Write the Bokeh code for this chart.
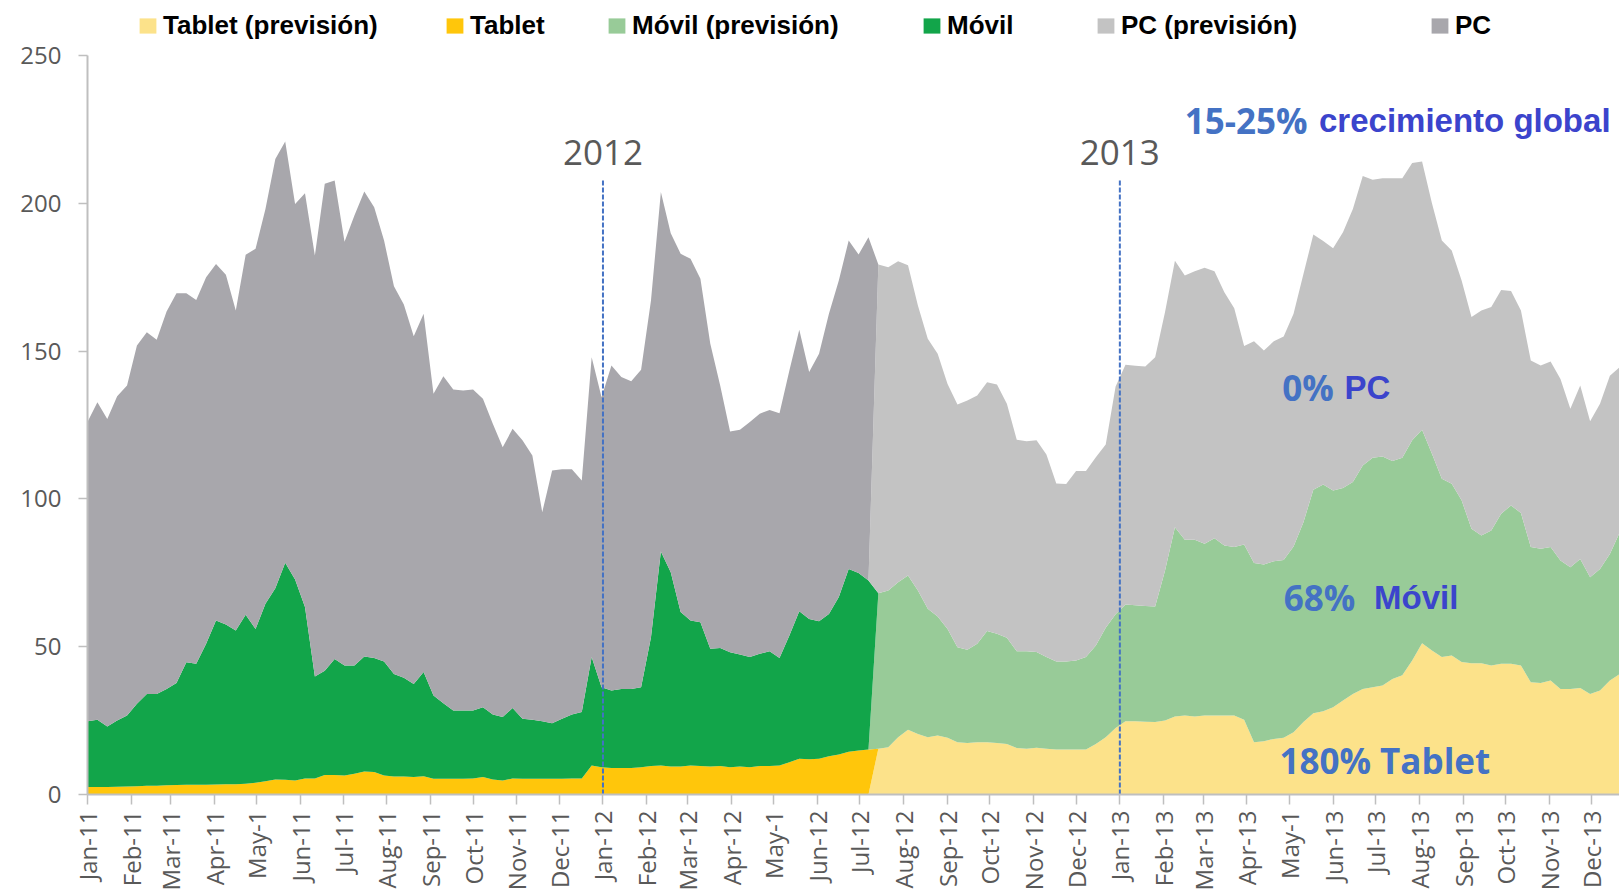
import datetime as dt
from math import pi
from bokeh.plotting import figure
from bokeh.models import Range1d, FixedTicker, Label, Legend, LegendItem, ColumnDataSource
from bokeh.embed import file_html
from bokeh.resources import INLINE

# ---------------- data (weekly, from 1 Jan 2011) ----------------
month_labels = ["Jan-11", "Feb-11", "Mar-11", "Apr-11", "May-1", "Jun-11", "Jul-11", "Aug-11",
                "Sep-11", "Oct-11", "Nov-11", "Dec-11",
                "Jan-12", "Feb-12", "Mar-12", "Apr-12", "May-1", "Jun-12", "Jul-12", "Aug-12",
                "Sep-12", "Oct-12", "Nov-12", "Dec-12",
                "Jan-13", "Feb-13", "Mar-13", "Apr-13", "May-1", "Jun-13", "Jul-13", "Aug-13",
                "Sep-13", "Oct-13", "Nov-13", "Dec-13"]

# actual values: weeks 0..79
tablet_real = [2.5, 2.5, 2.5, 2.6, 2.7, 2.8, 3.0, 3.0, 3.1, 3.2,
               3.3, 3.3, 3.3, 3.4, 3.5, 3.5, 3.6, 4.0, 4.5, 5.1,
               5.0, 4.7, 5.4, 5.4, 6.6, 6.6, 6.4, 7.0, 7.8, 7.6,
               6.4, 6.1, 6.1, 5.9, 6.2, 5.3, 5.3, 5.3, 5.3, 5.4,
               5.9, 5.1, 4.7, 5.4, 5.3, 5.3, 5.3, 5.3, 5.3, 5.4,
               5.4, 9.8, 9.2, 9.0, 9.0, 9.0, 9.2, 9.6, 9.8, 9.5,
               9.5, 9.8, 9.6, 9.5, 9.6, 9.2, 9.5, 9.2, 9.6, 9.6,
               9.8, 10.9, 12.1, 11.9, 12.1, 12.9, 13.5, 14.5, 14.9, 15.2]
movil_real = [22.3, 22.8, 20.5, 22.4, 24.0, 27.9, 31.0, 31.0, 32.6, 34.5,
              41.4, 40.9, 47.7, 55.5, 54.0, 52.0, 57.2, 52.0, 60.0, 64.7,
              73.4, 68.0, 58.0, 34.5, 35.3, 39.2, 37.2, 36.6, 38.9, 38.6,
              38.6, 34.7, 33.4, 31.5, 35.2, 28.2, 25.6, 23.1, 23.1, 23.0,
              23.6, 22.0, 21.5, 23.9, 20.3, 20.0, 19.5, 18.8, 20.3, 21.7,
              22.5, 36.7, 27.1, 26.2, 26.7, 26.7, 27.1, 43.6, 72.4, 65.7,
              52.2, 49.1, 48.7, 39.8, 40.0, 38.9, 37.9, 37.3, 38.0, 38.9,
              36.4, 42.9, 49.9, 47.5, 46.5, 48.2, 53.3, 61.8, 60.0, 57.2]
pc_real = [101.2, 107.4, 104.0, 109.7, 111.7, 121.2, 122.4, 119.8, 127.7, 131.9,
           124.9, 123.1, 124.0, 120.6, 118.3, 108.2, 121.8, 128.6, 133.6, 145.2,
           142.5, 127.1, 140.0, 142.4, 164.7, 161.9, 143.4, 152.3, 157.3, 152.5,
           142.4, 131.1, 126.3, 117.6, 121.2, 102.1, 110.6, 108.6, 108.3, 108.6,
           104.4, 98.3, 91.3, 94.4, 94.2, 89.4, 70.7, 85.5, 84.4, 82.9,
           78.3, 101.4, 98.1, 109.9, 105.5, 104.1, 107.4, 113.9, 121.6, 114.7,
           121.2, 122.3, 116.2, 103.2, 88.8, 74.7, 76.0, 79.5, 81.2, 81.6,
           82.8, 89.6, 95.2, 83.5, 90.5, 101.5, 107.1, 111.1, 107.8, 116.1]

# forecast values: weeks 80..155
tablet_prev = [15.5, 16.0, 19.4, 21.9, 20.5, 19.4, 20.0, 19.2, 17.7, 17.4,
               17.7, 17.7, 17.4, 17.1, 15.7, 15.5, 15.8, 15.5, 15.2, 15.2,
               15.2, 15.2, 17.1, 19.4, 22.5, 24.8, 24.8, 24.6, 24.5, 25.0,
               26.4, 26.7, 26.4, 26.7, 26.7, 26.7, 26.7, 25.3, 17.7, 18.0,
               18.8, 19.2, 21.1, 24.5, 27.5, 28.2, 29.5, 31.8, 34.0, 35.7,
               36.3, 36.9, 39.1, 40.3, 45.3, 51.2, 48.7, 46.5, 47.0, 44.8,
               44.4, 44.4, 43.6, 44.2, 44.2, 43.6, 38.0, 37.7, 38.6, 35.7,
               35.7, 36.0, 34.0, 35.2, 38.6, 40.8]
movil_prev = [52.6, 53.0, 52.4, 52.2, 48.5, 43.4, 40.2, 36.8, 32.1, 31.6,
              33.3, 37.6, 37.0, 35.9, 32.8, 33.0, 32.4, 31.0, 29.8, 29.8,
              30.1, 31.3, 33.3, 37.0, 38.5, 39.5, 39.2, 39.2, 39.1, 50.8,
              64.0, 59.5, 59.8, 58.1, 60.0, 57.5, 57.0, 59.3, 60.6, 59.8,
              60.1, 60.1, 62.8, 67.6, 75.6, 76.7, 73.3, 71.9, 71.7, 75.6,
              77.6, 77.4, 73.7, 73.6, 74.5, 72.2, 66.6, 60.3, 58.1, 54.7,
              45.5, 43.2, 45.7, 50.8, 53.6, 51.6, 45.7, 45.4, 45.1, 43.5,
              41.2, 43.7, 39.5, 41.1, 42.8, 47.9]
pc_prev = [111.2, 109.4, 108.6, 104.9, 96.4, 91.4, 88.9, 82.9, 82.1, 84.3,
           84.0, 84.2, 84.3, 79.2, 71.5, 71.0, 71.6, 68.5, 60.2, 60.0,
           64.1, 62.9, 63.7, 62.0, 77.0, 81.1, 81.0, 81.0, 84.3, 87.4,
           90.2, 89.4, 90.8, 93.4, 90.3, 85.7, 80.8, 67.1, 75.0, 72.4,
           74.4, 75.6, 78.7, 84.0, 86.3, 82.3, 82.0, 86.5, 92.4, 97.9,
           94.1, 94.2, 95.7, 94.6, 93.8, 90.7, 84.7, 80.6, 78.9, 74.4,
           71.6, 76.1, 75.6, 75.7, 72.5, 68.5, 63.1, 62.0, 62.8, 61.4,
           53.6, 58.7, 52.8, 55.9, 60.3, 55.9]

series_names = ["Tablet (previsión)", "Tablet", "Móvil (previsión)", "Móvil", "PC (previsión)", "PC"]
series_colors = ["#FCE28A", "#FFC60B", "#98CB98", "#12A54A", "#C3C3C3", "#A8A7AC"]

# ---------------- build stacked columns ----------------
n_real = len(tablet_real)
n_prev = len(tablet_prev)
n = n_real + n_prev
start = dt.date(2011, 1, 1)
x_days = [7 * i for i in range(n)]
zeros_r = [0.0] * n_real
zeros_p = [0.0] * n_prev
cols = {
    "x": x_days,
    "s0": zeros_r + tablet_prev,
    "s1": tablet_real + zeros_p,
    "s2": zeros_r + movil_prev,
    "s3": movil_real + zeros_p,
    "s4": zeros_r + pc_prev,
    "s5": pc_real + zeros_p,
}
src = ColumnDataSource(cols)
keys = ["s0", "s1", "s2", "s3", "s4", "s5"]

tick_days = []
for i in range(len(month_labels)):
    d = dt.date(2011 + i // 12, i % 12 + 1, 1)
    tick_days.append((d - start).days)

# ---------------- figure ----------------
W, H = 1619, 895
p = figure(width=W, height=H, output_backend="svg", toolbar_location=None,
           x_range=Range1d(0, 1084.8), y_range=Range1d(0, 268.6),
           min_border_left=87, min_border_right=0, min_border_top=0, min_border_bottom=101)
p.outline_line_color = None
p.xgrid.visible = False
p.ygrid.visible = False
p.background_fill_color = "white"

rs = p.varea_stack(stackers=keys, x="x", color=series_colors, source=src)

# axes
ax = p.xaxis[0]
ax.ticker = FixedTicker(ticks=tick_days)
ax.major_label_overrides = {d: lab for d, lab in zip(tick_days, month_labels)}
ax.major_label_orientation = pi / 2
ax.major_label_text_font = "Open Sans"
ax.major_label_text_font_size = "24px"
ax.major_label_text_color = "#595959"
ax.axis_line_color = "#BFBFBF"
ax.axis_line_width = 2
ax.major_tick_line_color = "#BFBFBF"
ax.major_tick_line_width = 1.5
ax.major_tick_out = 10
ax.major_tick_in = 0
ax.minor_tick_line_color = None
ax.major_label_standoff = 6

ay = p.yaxis[0]
ay.ticker = FixedTicker(ticks=[0, 50, 100, 150, 200, 250])
ay.bounds = (0, 250)
ay.major_label_text_font = "Open Sans"
ay.major_label_text_font_size = "24px"
ay.major_label_text_color = "#595959"
ay.axis_line_color = "#BFBFBF"
ay.axis_line_width = 2
ay.major_tick_line_color = "#BFBFBF"
ay.major_tick_line_width = 1.5
ay.major_tick_out = 9
ay.major_tick_in = 0
ay.minor_tick_line_color = None
ay.major_label_standoff = 17

# year markers
year_days = [tick_days[12], tick_days[24]]
year_text = ["2012", "2013"]
p.segment(x0=year_days, y0=[0, 0], x1=year_days, y1=[208, 208],
          line_color="#4472C4", line_width=2, line_dash="5 2")
for d, t in zip(year_days, year_text):
    p.add_layout(Label(x=d, y=217.3, text=t, text_align="center", text_baseline="alphabetic",
                       text_font="Open Sans", text_font_size="35px", text_color="#595959"))

# annotations
blue1 = "#4472C4"
blue2 = "#3B44CC"
ann = [
    (777, 227.9, "15-25%", "Open Sans", "35px", blue1),
    (872, 227.9, "crecimiento global", "Liberation Sans", "33px", blue2),
    (846, 137.8, "0%", "Open Sans", "35px", blue1),
    (890, 137.8, "PC", "Liberation Sans", "33px", blue2),
    (847, 66.8, "68%", "Open Sans", "35px", blue1),
    (911, 66.8, "Móvil", "Liberation Sans", "33px", blue2),
    (844, 11.4, "180% Tablet", "Open Sans", "35px", blue1),
]
for x, y, t, f, s, c in ann:
    p.add_layout(Label(x=x, y=y, text=t, text_align="left", text_baseline="alphabetic",
                       text_font=f, text_font_size=s, text_font_style="bold", text_color=c))

# legends (one per item, placed like the original)
legend_x = [50, 357, 519, 834, 1008, 1342]
for r, name, lx in zip(rs, series_names, legend_x):
    lg = Legend(items=[LegendItem(label=name, renderers=[r])], location=(lx, 753),
                orientation="horizontal", padding=0, margin=0, spacing=0,
                border_line_color=None, background_fill_alpha=0,
                glyph_width=21, glyph_height=19, label_standoff=5,
                label_text_font="Liberation Sans", label_text_font_style="bold",
                label_text_font_size="26px", label_text_color="#000000")
    p.add_layout(lg)

open("out.html", "w").write(file_html(p, INLINE))
